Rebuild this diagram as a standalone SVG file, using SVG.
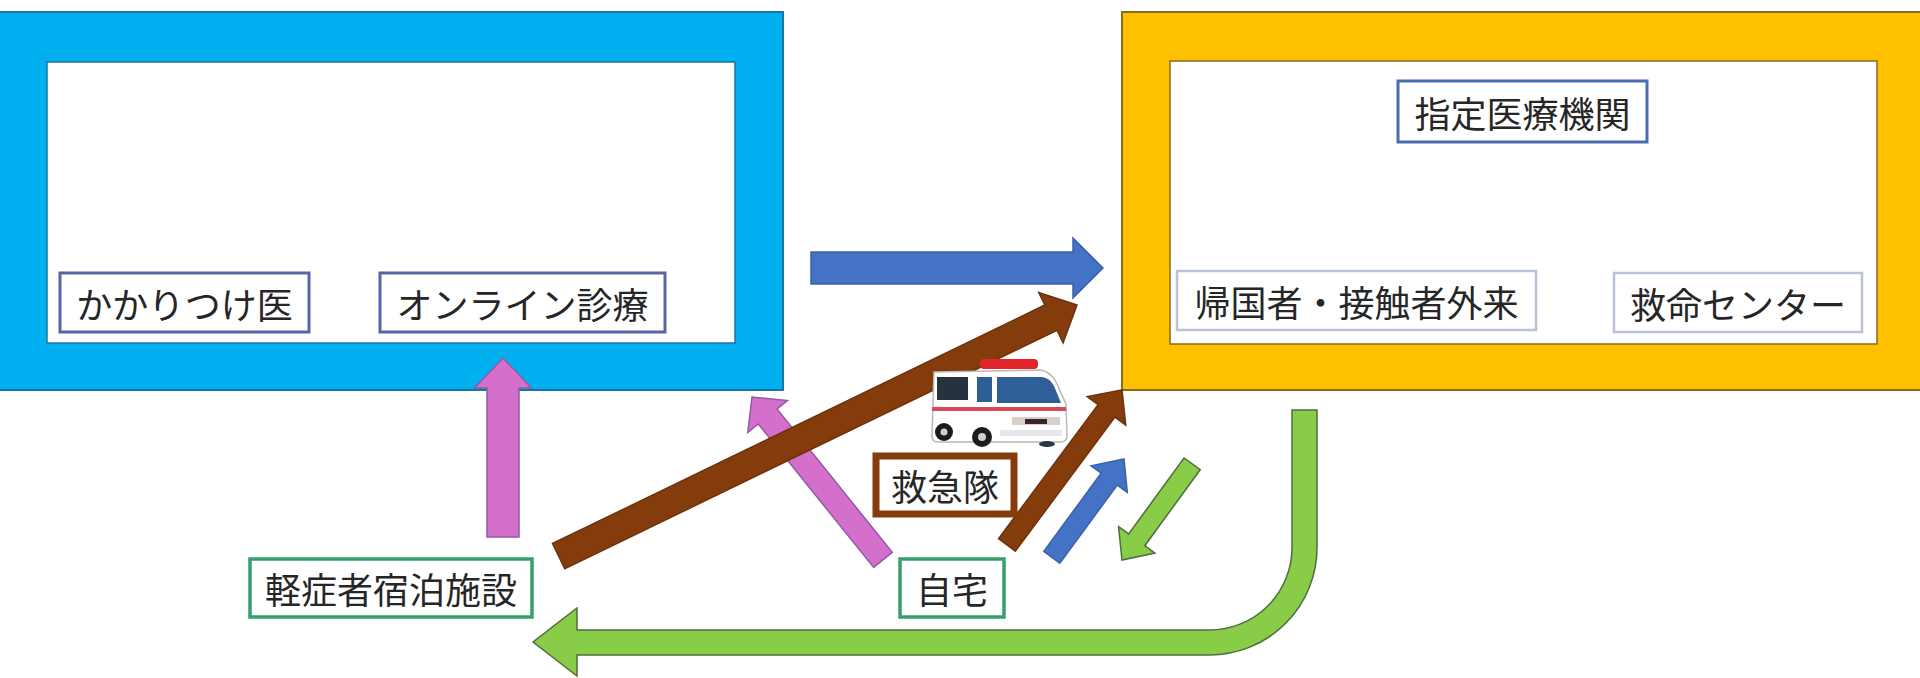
<svg xmlns="http://www.w3.org/2000/svg" width="1920" height="678" viewBox="0 0 1920 678">
  <style>
    .lbl { font-family: "Noto Sans CJK JP", "Noto Sans CJK SC", sans-serif; font-size: 36px; fill: #262626; text-anchor: middle; dominant-baseline: central; }
    .box { fill: #ffffff; }
    .b-indigo { stroke: #5a64a6; stroke-width: 3; }
    .b-blue { stroke: #4a6cb0; stroke-width: 3; }
    .b-pale { stroke: #b9c2d8; stroke-width: 2.5; }
    .b-green { stroke: #34a06e; stroke-width: 3.5; }
    .b-brown { stroke: #843c0c; stroke-width: 7; }
    .a-blue { fill: #4472c4; stroke: #3a62a8; stroke-width: 1.5; }
    .a-brown { fill: #843c0c; stroke: #6e320a; stroke-width: 1.5; }
    .a-pink { fill: #d46fcb; stroke: #8f5aa6; stroke-width: 1.5; }
    .a-green { fill: #88cc48; stroke: #4f6e3c; stroke-width: 1.5; }
  </style>

  <rect width="1920" height="678" fill="#ffffff"/>

  <!-- outpatient area frame -->
  <g id="clinic-area">
    <rect x="-5" y="12" width="788" height="378" fill="#00b0f0" stroke="#1b74a3" stroke-width="2"/>
    <rect x="47" y="62" width="688" height="281" fill="#ffffff" stroke="#1b74a3" stroke-width="1.5"/>
  </g>

  <!-- designated hospital frame -->
  <g id="designated-area">
    <rect x="1122" y="12" width="803" height="378" fill="#ffc000" stroke="#8a6b1c" stroke-width="2"/>
    <rect x="1170" y="61" width="707" height="283" fill="#ffffff" stroke="#8a6b1c" stroke-width="1.5"/>
  </g>

  <!-- connectors -->
  <g id="connectors">
    <!-- clinic to designated hospital -->
    <polygon class="a-blue" transform="translate(1103,268)" points="-292,-16 -30,-16 -30,-30 0,0 -30,30 -30,16 -292,16"/>
    <!-- hotel to clinic -->
    <polygon class="a-pink" transform="translate(503,358) rotate(-90)" points="-179,-16 -30,-16 -30,-28.5 0,0 -30,28.5 -30,16 -179,16"/>
    <!-- home to clinic -->
    <polygon class="a-pink" transform="translate(752,397) rotate(-128.8)" points="-209,-12 -25,-12 -25,-25.5 0,0 -25,25.5 -25,12 -209,12"/>
    <!-- hotel to designated hospital -->
    <polygon class="a-brown" transform="translate(1077,305) rotate(-25.85)" points="-576,-14 -29,-14 -29,-28 0,0 -29,28 -29,14 -576,14"/>
    <!-- ambulance transport -->
    <polygon class="a-brown" transform="translate(1122,390) rotate(-53.4)" points="-193,-10.5 -26,-10.5 -26,-24 0,0 -26,24 -26,10.5 -193,10.5"/>
    <!-- home to designated hospital -->
    <polygon class="a-blue" transform="translate(1124,459) rotate(-53.7)" points="-122,-10 -25,-10 -25,-22.5 0,0 -25,22.5 -25,10 -122,10"/>
    <!-- designated hospital back home -->
    <polygon class="a-green" transform="translate(1122,560) rotate(126.1)" points="-119,-10 -25,-10 -25,-22.5 0,0 -25,22.5 -25,10 -119,10"/>
    <!-- designated hospital to hotel (U-turn) -->
    <path class="a-green" d="M1292,410 L1317,410 L1317,547 A107.5,107.5 0 0 1 1209.5,655 L577,655 L577,676 L533,642 L577,608 L577,630 L1209.5,630 A82.5,82.5 0 0 0 1292,547 Z"/>
  </g>

  <!-- ambulance -->
  <g id="ambulance">
    <rect x="980" y="359" width="58" height="10" rx="4" fill="#e0262b"/>
    <path d="M934,372 L1040,370 Q1050,371 1056,382 L1066,404 L1067,436 Q1067,442 1060,442 L938,442 Q932,442 932,436 Z" fill="#ffffff" stroke="#b8b8b8" stroke-width="1.5"/>
    <rect x="937" y="377" width="31" height="23" fill="#27323f"/>
    <path d="M977,377 L992,377 L992,402 L977,402 Z" fill="#2d5f94"/>
    <path d="M997,377 L1042,377 Q1050,378 1054,386 L1061,403 L997,403 Z" fill="#2f5f98"/>
    <rect x="932" y="407" width="134" height="4" fill="#d9485a"/>
    <rect x="1012" y="417" width="48" height="8" fill="#d8d0c8"/>
    <rect x="1025" y="419" width="22" height="5" fill="#3a2430"/>
    <rect x="1000" y="430" width="62" height="6" fill="#e6e6ee"/>
    <ellipse cx="1047" cy="444" rx="8" ry="3" fill="#2a3550"/>
    <circle cx="944" cy="432" r="9" fill="#1c1c1c"/>
    <circle cx="944" cy="432" r="3.5" fill="#cfcfcf"/>
    <circle cx="982" cy="437" r="10" fill="#1c1c1c"/>
    <circle cx="982" cy="437" r="4" fill="#cfcfcf"/>
  </g>

  <!-- labels -->
  <g id="kakaritsuke">
    <rect class="box b-indigo" x="60" y="273" width="249" height="59"/>
    <text class="lbl" x="184.5" y="302.5">かかりつけ医</text>
  </g>
  <g id="online">
    <rect class="box b-indigo" x="380" y="273" width="285" height="59"/>
    <text class="lbl" x="522.5" y="302.5">オンライン診療</text>
  </g>
  <g id="shitei">
    <rect class="box b-blue" x="1398" y="81" width="249" height="61"/>
    <text class="lbl" x="1522.5" y="111.5">指定医療機関</text>
  </g>
  <g id="kikokusha">
    <rect class="box b-pale" x="1177" y="271" width="359" height="59"/>
    <text class="lbl" x="1356.5" y="300.5">帰国者・接触者外来</text>
  </g>
  <g id="kyumei">
    <rect class="box b-pale" x="1614" y="273" width="248" height="59"/>
    <text class="lbl" x="1738" y="302.5">救命センター</text>
  </g>
  <g id="kyukyutai">
    <rect class="box b-brown" x="876" y="456" width="138" height="58"/>
    <text class="lbl" x="945" y="485">救急隊</text>
  </g>
  <g id="jitaku">
    <rect class="box b-green" x="900" y="559" width="104" height="58"/>
    <text class="lbl" x="952" y="588">自宅</text>
  </g>
  <g id="hotel">
    <rect class="box b-green" x="250" y="559" width="282" height="58"/>
    <text class="lbl" x="391" y="588">軽症者宿泊施設</text>
  </g>
</svg>
